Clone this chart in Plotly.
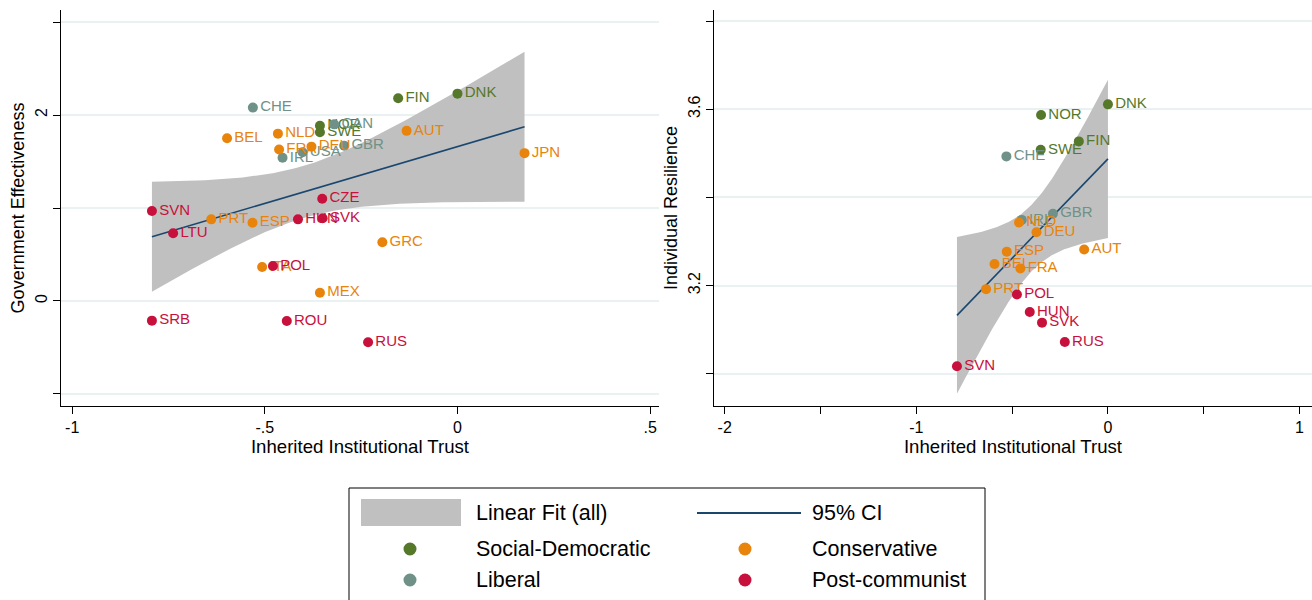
import math
import numpy as np
import plotly.graph_objects as go

# Welfare-regime groups and their colours
GROUPS = ["Social-Democratic", "Liberal", "Conservative", "Post-communist"]
GROUP_COLORS = {
    "Social-Democratic": "#56782b",
    "Conservative": "#e8830c",
    "Liberal": "#6f9187",
    "Post-communist": "#c8103c",
}

# Panel 1: Government Effectiveness vs Inherited Institutional Trust
ge_country = ["DNK", "FIN", "NOR", "SWE",
              "CHE", "CAN", "GBR", "USA", "IRL",
              "AUT", "BEL", "NLD", "FRA", "DEU", "JPN", "PRT", "ESP", "GRC", "ITA", "MEX",
              "CZE", "SVN", "HUN", "SVK", "LTU", "POL", "SRB", "ROU", "RUS"]
ge_group = (["Social-Democratic"] * 4 + ["Liberal"] * 5 + ["Conservative"] * 11
            + ["Post-communist"] * 9)
ge_trust = [0.000, -0.154, -0.357, -0.357,
            -0.531, -0.320, -0.294, -0.402, -0.454,
            -0.132, -0.598, -0.466, -0.463, -0.379, 0.174, -0.639, -0.532, -0.195, -0.507, -0.357,
            -0.351, -0.793, -0.414, -0.350, -0.738, -0.479, -0.793, -0.443, -0.232]
ge_value = [2.23, 2.18, 1.885, 1.814,
            2.08, 1.90, 1.67, 1.60, 1.54,
            1.83, 1.75, 1.80, 1.63, 1.66, 1.59, 0.878, 0.842, 0.631, 0.366, 0.089,
            1.10, 0.968, 0.878, 0.889, 0.728, 0.376, -0.212, -0.215, -0.444]

# Panel 2: Individual Resilience vs Inherited Institutional Trust
res_country = ["DNK", "NOR", "FIN", "SWE",
               "CHE", "GBR", "IRL",
               "NLD", "DEU", "AUT", "ESP", "BEL", "FRA", "PRT",
               "POL", "HUN", "SVK", "RUS", "SVN"]
res_group = (["Social-Democratic"] * 4 + ["Liberal"] * 3 + ["Conservative"] * 7
             + ["Post-communist"] * 5)
res_trust = [0.000, -0.349, -0.152, -0.351,
             -0.530, -0.287, -0.450,
             -0.464, -0.373, -0.124, -0.528, -0.592, -0.457, -0.636,
             -0.475, -0.408, -0.344, -0.225, -0.788]
res_value = [3.611, 3.587, 3.527, 3.508,
             3.493, 3.363, 3.349,
             3.343, 3.321, 3.282, 3.277, 3.249, 3.239, 3.192,
             3.180, 3.140, 3.116, 3.072, 3.017]

LEGEND_ROWS = [("Linear Fit (all)", "95% CI"),
               ("Social-Democratic", "Conservative"),
               ("Liberal", "Post-communist")]

FONT = "Liberation Sans, Arial, Helvetica, sans-serif"
BAND_COLOR = "#c0c0c0"
LINE_COLOR = "#1a476f"
GRID_COLOR = "#e9f1f3"
W, H = 1312, 600


def t_quantile(df, p=0.975):
    xs = np.linspace(0.0, 12.0, 240001)
    c = math.exp(math.lgamma((df + 1) / 2) - math.lgamma(df / 2)) / math.sqrt(df * math.pi)
    pdf = c * (1 + xs ** 2 / df) ** (-(df + 1) / 2)
    cdf = 0.5 + np.concatenate([[0.0], np.cumsum((pdf[1:] + pdf[:-1]) / 2 * np.diff(xs))])
    return float(np.interp(p, cdf, xs))


def linear_fit(x, y, n_pts=120):
    x = np.asarray(x, float)
    y = np.asarray(y, float)
    n = len(x)
    xbar = x.mean()
    sxx = ((x - xbar) ** 2).sum()
    slope = ((x - xbar) * (y - y.mean())).sum() / sxx
    icpt = y.mean() - slope * xbar
    resid = y - (icpt + slope * x)
    s = math.sqrt((resid ** 2).sum() / (n - 2))
    grid = np.linspace(x.min(), x.max(), n_pts)
    fit = icpt + slope * grid
    half = t_quantile(n - 2) * s * np.sqrt(1 / n + (grid - xbar) ** 2 / sxx)
    return grid, fit, fit - half, fit + half


fig = go.Figure()


def add_panel(xs, ys, names, groups, xa, ya):
    grid, fit, lo, hi = linear_fit(xs, ys)
    fig.add_trace(go.Scatter(
        x=np.concatenate([grid, grid[::-1]]), y=np.concatenate([hi, lo[::-1]]),
        fill="toself", fillcolor=BAND_COLOR, line=dict(width=0), mode="lines",
        hoverinfo="skip", showlegend=False, xaxis=xa, yaxis=ya))
    fig.add_trace(go.Scatter(
        x=grid, y=fit, mode="lines", line=dict(color=LINE_COLOR, width=1.6),
        showlegend=False, xaxis=xa, yaxis=ya))
    for g in GROUPS:
        idx = [i for i, gg in enumerate(groups) if gg == g]
        fig.add_trace(go.Scatter(
            x=[xs[i] for i in idx], y=[ys[i] for i in idx], text=[names[i] for i in idx],
            mode="markers+text", textposition="middle right",
            marker=dict(color=GROUP_COLORS[g], size=10),
            textfont=dict(color=GROUP_COLORS[g], size=15, family=FONT),
            showlegend=False, xaxis=xa, yaxis=ya))


add_panel(ge_trust, ge_value, ge_country, ge_group, "x", "y")
add_panel(res_trust, res_value, res_country, res_group, "x2", "y2")

y_dom = [1 - 406 / H, 1 - 10 / H]
common_x = dict(showline=True, linecolor="black", linewidth=1, ticks="outside", ticklen=7,
                tickcolor="black", showgrid=False, zeroline=False,
                tickfont=dict(size=16, color="black", family=FONT))
common_y = dict(showline=True, linecolor="black", linewidth=1, ticks="outside", ticklen=7,
                tickcolor="black", showgrid=True, gridcolor=GRID_COLOR, gridwidth=1.5,
                zeroline=False, tickangle=-90,
                tickfont=dict(size=16, color="black", family=FONT))

fig.update_layout(
    width=W, height=H, margin=dict(l=0, r=0, t=0, b=0),
    paper_bgcolor="white", plot_bgcolor="white", showlegend=False,
    font=dict(family=FONT, color="black"),
    xaxis=dict(domain=[61 / W, 659 / W], range=[-1.029, 0.523],
               tickvals=[-1, -0.5, 0, 0.5], ticktext=["-1", "-.5", "0", ".5"],
               title=dict(text="Inherited Institutional Trust", font=dict(size=18.6), standoff=4),
               anchor="y", **common_x),
    yaxis=dict(domain=y_dom, range=[-1.13, 3.13],
               tickvals=[-1, 0, 1, 2, 3], ticktext=["", "0", "", "2", ""],
               title=dict(text="Government Effectiveness", font=dict(size=18), standoff=3),
               anchor="x", **common_y),
    xaxis2=dict(domain=[714 / W, 1.0], range=[-2.056, 1.065],
                tickvals=[-2, -1.5, -1, -0.5, 0, 0.5, 1], ticktext=["-2", "", "-1", "", "0", "", "1"],
                title=dict(text="Inherited Institutional Trust", font=dict(size=18.6), standoff=4),
                anchor="y2", **common_x),
    yaxis2=dict(domain=y_dom, range=[2.927, 3.825],
                tickvals=[3.0, 3.2, 3.4, 3.6, 3.8], ticktext=["", "3.2", "", "3.6", ""],
                title=dict(text="Individual Resilience", font=dict(size=18), standoff=3),
                anchor="x2", **common_y),
)

# Legend box drawn in paper space
def px(x):
    return x / W


def py(y):
    return 1 - y / H


shapes = [
    dict(type="rect", xref="paper", yref="paper", x0=px(349), x1=px(985), y0=py(640), y1=py(488),
         line=dict(color="black", width=1), fillcolor="rgba(0,0,0,0)"),
    dict(type="rect", xref="paper", yref="paper", x0=px(361), x1=px(461), y0=py(526), y1=py(499),
         line=dict(width=0), fillcolor=BAND_COLOR),
    dict(type="line", xref="paper", yref="paper", x0=px(697), x1=px(801), y0=py(513), y1=py(513),
         line=dict(color=LINE_COLOR, width=2)),
]
marker_pos = {"Social-Democratic": (410, 549), "Conservative": (745, 549),
              "Liberal": (410, 580), "Post-communist": (745, 580)}
for g, (cx, cy) in marker_pos.items():
    r = 6.5
    shapes.append(dict(type="circle", xref="paper", yref="paper",
                       x0=px(cx - r), x1=px(cx + r), y0=py(cy + r), y1=py(cy - r),
                       line=dict(width=0), fillcolor=GROUP_COLORS[g]))

annotations = []
row_y = [513, 549, 580]
for (left, right), yy in zip(LEGEND_ROWS, row_y):
    for label, xx in ((left, 474), (right, 810)):
        annotations.append(dict(text=label, xref="paper", yref="paper", x=px(xx), y=py(yy),
                                xanchor="left", yanchor="middle", showarrow=False,
                                font=dict(size=21.5, color="black", family=FONT)))

fig.update_layout(shapes=shapes, annotations=annotations)

fig.write_html("out.html")
